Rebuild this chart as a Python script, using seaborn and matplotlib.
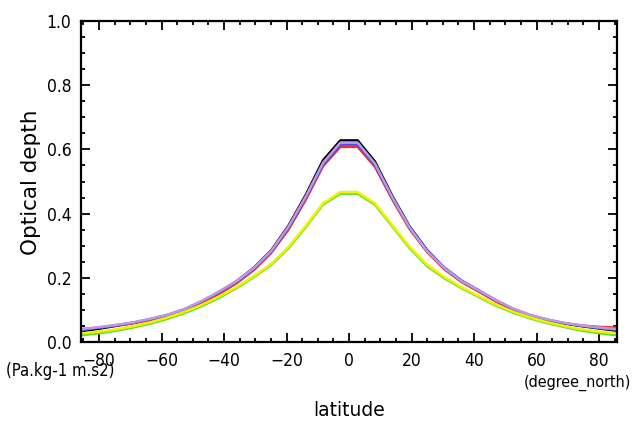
import numpy as np
import pandas as pd
import matplotlib
matplotlib.use("Agg")
import matplotlib.pyplot as plt
import seaborn as sns
from matplotlib.ticker import MultipleLocator

# Gaussian-grid latitudes (32 points)
lat = [-85.76, -80.27, -74.74, -69.21, -63.68, -58.14, -52.61, -47.07,
       -41.54, -36.00, -30.47, -24.92, -19.38, -13.85, -8.31, -2.77,
       2.77, 8.31, 13.85, 19.38, 24.92, 30.47, 36.00, 41.54,
       47.07, 52.61, 58.14, 63.68, 69.21, 74.74, 80.27, 85.76]

black = [0.033, 0.041, 0.050, 0.059, 0.070, 0.083, 0.101, 0.126,
         0.156, 0.189, 0.231, 0.285, 0.362, 0.458, 0.566, 0.628,
         0.628, 0.562, 0.455, 0.360, 0.287, 0.232, 0.191, 0.160,
         0.128, 0.101, 0.082, 0.068, 0.057, 0.049, 0.042, 0.035]
lavender = [0.040, 0.046, 0.053, 0.061, 0.072, 0.085, 0.103, 0.128,
            0.157, 0.189, 0.230, 0.283, 0.359, 0.453, 0.558, 0.621,
            0.621, 0.556, 0.451, 0.357, 0.284, 0.231, 0.190, 0.161,
            0.130, 0.104, 0.084, 0.070, 0.059, 0.051, 0.045, 0.040]
blue = [0.037, 0.044, 0.052, 0.060, 0.071, 0.084, 0.102, 0.127,
        0.155, 0.187, 0.228, 0.281, 0.356, 0.450, 0.553, 0.615,
        0.615, 0.552, 0.449, 0.357, 0.285, 0.231, 0.191, 0.161,
        0.130, 0.103, 0.083, 0.069, 0.058, 0.050, 0.043, 0.038]
red = [0.040, 0.045, 0.051, 0.058, 0.068, 0.080, 0.097, 0.121,
       0.150, 0.183, 0.224, 0.277, 0.350, 0.443, 0.548, 0.608,
       0.608, 0.546, 0.444, 0.352, 0.281, 0.227, 0.187, 0.157,
       0.126, 0.100, 0.081, 0.068, 0.058, 0.051, 0.047, 0.045]
green = [0.021, 0.027, 0.035, 0.045, 0.057, 0.072, 0.090, 0.112,
         0.138, 0.168, 0.202, 0.240, 0.292, 0.358, 0.428, 0.462,
         0.462, 0.428, 0.360, 0.293, 0.237, 0.199, 0.168, 0.140,
         0.113, 0.091, 0.073, 0.058, 0.046, 0.035, 0.027, 0.021]
yellow = [0.027, 0.032, 0.039, 0.049, 0.061, 0.076, 0.094, 0.116,
          0.142, 0.171, 0.205, 0.243, 0.296, 0.362, 0.432, 0.467,
          0.467, 0.432, 0.364, 0.297, 0.241, 0.203, 0.171, 0.143,
          0.116, 0.094, 0.076, 0.061, 0.049, 0.039, 0.032, 0.027]

series = {"black": black, "red": red, "blue": blue, "lavender": lavender,
          "green": green, "yellow": yellow}
colors = {"black": "#000000", "red": "#f03030", "blue": "#4a4af0",
          "lavender": "#b89ae6", "green": "#60e020", "yellow": "#f2f200"}

rows = []
for name, vals in series.items():
    for x, y in zip(lat, vals):
        rows.append({"lat": x, "val": y, "run": name})
df = pd.DataFrame(rows)

sns.set_style("ticks")
plt.rcParams["font.family"] = ["DejaVu Sans"]
plt.rcParams["text.color"] = "black"

fig = plt.figure(figsize=(6.32, 4.21), dpi=100)
ax = fig.add_axes([81/632, 79/421, 536/632, 321/421])

sns.lineplot(data=df, x="lat", y="val", hue="run", palette=colors,
             hue_order=list(series.keys()), linewidth=1.8, ax=ax,
             legend=False, estimator=None, sort=True)

ax.set_xlim(-85.76, 85.76)
ax.set_ylim(0, 1.0)
ax.xaxis.set_major_locator(MultipleLocator(20))
ax.xaxis.set_minor_locator(MultipleLocator(5))
ax.yaxis.set_major_locator(MultipleLocator(0.2))
ax.yaxis.set_minor_locator(MultipleLocator(0.05))
ax.yaxis.set_major_formatter(matplotlib.ticker.FormatStrFormatter("%.1f"))

ax.tick_params(which="both", direction="in", top=True, right=True,
               width=1.3, colors="black", labelcolor="black")
ax.tick_params(which="major", length=6.5, labelsize=12.5, pad=7)
ax.tick_params(which="minor", length=3)
for s in ax.spines.values():
    s.set_linewidth(1.6)
    s.set_color("black")
for lab in ax.get_xticklabels() + ax.get_yticklabels():
    lab.set_fontstretch("condensed")

ax.set_xlabel("")
ax.set_ylabel("")
fig.text(31/632, 1 - 182/421, "Optical depth", rotation=90, ha="center",
         va="center", fontsize=15.5, color="black")
fig.text(349/632, 1 - 410/421, "latitude", ha="center", va="center",
         fontsize=13.5, color="black")
fig.text(6/632, 1 - 371/421, "(Pa.kg-1 m.s2)", ha="left", va="center",
         fontsize=12, fontstretch="condensed", color="black")
fig.text(631/632, 1 - 383/421, "(degree_north)", ha="right", va="center",
         fontsize=11.5, fontstretch="condensed", color="black")

fig.savefig("out.png", dpi=100)
